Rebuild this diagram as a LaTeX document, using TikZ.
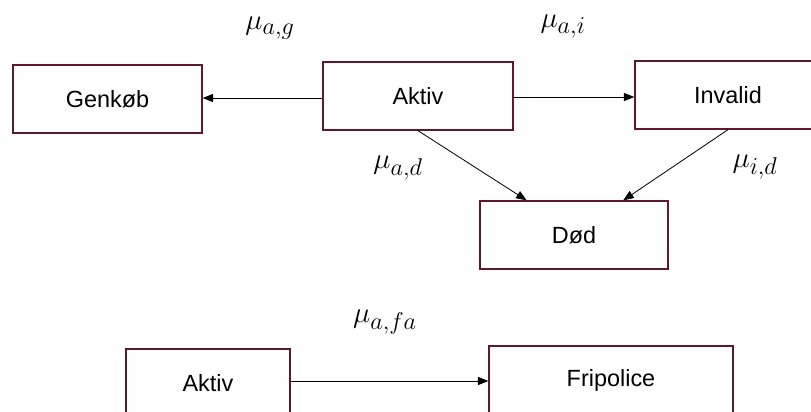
\documentclass[tikz,border=0pt]{standalone}
\usepackage{fontspec}
\setmainfont{Liberation Sans}
\usetikzlibrary{arrows.meta,calc}
\definecolor{boxred}{RGB}{95,25,45}
\begin{document}
\begin{tikzpicture}[
    x=0.03cm, y=-0.03cm,
    state/.style={rectangle, draw=boxred, line width=1.1pt, minimum height=2.04cm, inner sep=0pt, font=\fontsize{20}{24}\selectfont},
    trans/.style={-{Triangle[length=9pt,width=7pt]}, line width=0.7pt},
    rate/.style={font=\fontsize{29}{34}\selectfont}
]
    \useasboundingbox (0,0) rectangle (811,411);
    \clip (0,0) rectangle (811,411);

    % tilstande
    \node[state, minimum width=5.67cm] (genkob) at (107.5,99) {Genkøb};
    \node[state, minimum width=5.70cm] (aktiv) at (418,96) {Aktiv};
    \node[state, minimum width=5.58cm] (invalid) at (728,95) {Invalid};
    \node[state, minimum width=5.64cm] (dod) at (574,235) {Død};

    \node[state, minimum width=4.92cm] (aktiv2) at (208,383) {Aktiv};
    \node[state, minimum width=7.32cm] (fripolice) at (611,380) {Fripolice};

    % overgange
    \draw[trans] (aktiv.west |- 0,98) -- (genkob.east |- 0,98);
    \draw[trans] (aktiv.east |- 0,97) -- (invalid.west |- 0,97);
    \draw[trans] (aktiv.south) -- ($(dod.north west)!0.25!(dod.north east)$);
    \draw[trans] (invalid.south) -- ($(dod.north west)!0.76!(dod.north east)$);
    \draw[trans] (aktiv2.east |- 0,381) -- (fripolice.west |- 0,381);

    % intensiteter
    \node[rate] (mag) at (270,28) {$\mu_{a,g}$};
    \node[rate] (mai) at (563,27) {$\mu_{a,i}$};
    \node[rate] (mad) at (398,168) {$\mu_{a,d}$};
    \node[rate] (mid) at (755,167) {$\mu_{i,d}$};
    \node[rate] (mafa) at (385,322) {$\mu_{a,fa}$};
\end{tikzpicture}
\end{document}
